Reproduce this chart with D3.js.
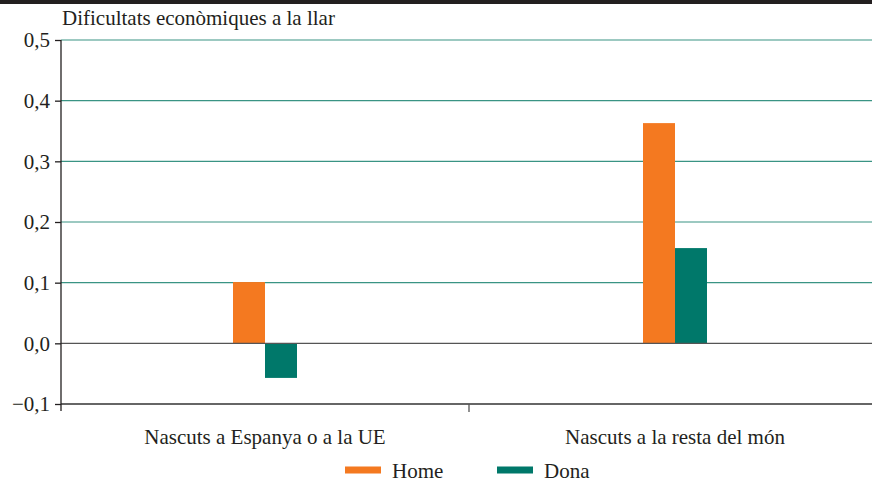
<!DOCTYPE html>
<html>
<head>
<meta charset="utf-8">
<script src="https://cdn.jsdelivr.net/npm/d3@7"></script>
</head>
<body style="margin:0">
<svg class="grafico"></svg>
<script>
// Datos del grafico
var categorias = ["Nascuts a Espanya o a la UE", "Nascuts a la resta del món"];
var series = ["Home", "Dona"];
var valoresHome = [0.101, 0.363];
var valoresDona = [-0.057, 0.157];
var ticksY = [-0.1, 0, 0.1, 0.2, 0.3, 0.4, 0.5];
var colores = ["#f47920", "#00786a"];

var fuente = "Liberation Serif";
var tam = 21;
var w = 872, h = 481;
var svg = d3.select(".grafico").attr("width", w).attr("height", h)
  .attr("font-family", fuente);

var izq = 60, der = 880, arriba = 40, abajo = 404;

var x = d3.scaleBand().domain(categorias).range([izq, der]);
var xs = d3.scaleBand().domain(series).range([x.bandwidth() / 2 - 32, x.bandwidth() / 2 + 32]);
var y = d3.scaleLinear().domain([-0.1, 0.5]).range([abajo, arriba]);

// barra negra superior
svg.append("rect").attr("x", 0).attr("y", 0).attr("width", w).attr("height", 4).attr("fill", "#231f20");

// titulo
svg.append("text").attr("x", 62).attr("y", 25).attr("font-size", tam)
  .attr("font-family", fuente).attr("fill", "#231f20")
  .text("Dificultats econòmiques a la llar");

// lineas de cuadricula
svg.append("g").selectAll("line")
  .data(ticksY.filter(function(d) { return d > 0; }))
  .enter().append("line")
  .attr("x1", 61).attr("x2", w)
  .attr("y1", function(d) { return y(d); })
  .attr("y2", function(d) { return y(d); })
  .attr("stroke", "#3a9484").attr("stroke-width", 1.2);

// barras
var datos = [];
categorias.forEach(function(c, i) {
  datos.push({ cat: c, serie: "Home", v: valoresHome[i] });
  datos.push({ cat: c, serie: "Dona", v: valoresDona[i] });
});
svg.append("g").selectAll("rect")
  .data(datos)
  .enter().append("rect")
  .attr("x", function(d) { return x(d.cat) + xs(d.serie); })
  .attr("width", xs.bandwidth())
  .attr("y", function(d) { return y(Math.max(0, d.v)); })
  .attr("height", function(d) { return Math.abs(y(d.v) - y(0)); })
  .attr("fill", function(d) { return colores[series.indexOf(d.serie)]; });

// linea del cero
svg.append("line").attr("x1", 61).attr("x2", w).attr("y1", y(0)).attr("y2", y(0))
  .attr("stroke", "#555").attr("stroke-width", 1.3);

// eje inferior
svg.append("line").attr("x1", 61).attr("x2", w).attr("y1", y(-0.1)).attr("y2", y(-0.1))
  .attr("stroke", "#333").attr("stroke-width", 1.3);
svg.append("line").attr("x1", x(categorias[1]) - 1).attr("x2", x(categorias[1]) - 1)
  .attr("y1", abajo).attr("y2", abajo + 8).attr("stroke", "#555").attr("stroke-width", 1.3);

// eje Y
var ejeY = d3.axisLeft(y).tickValues(ticksY).tickSize(6).tickPadding(5)
  .tickFormat(function(d) { return d3.format(".1f")(d).replace(".", ",").replace("-", "–"); });
var gy = svg.append("g").attr("transform", "translate(61,0)").call(ejeY)
  .attr("font-family", fuente).attr("font-size", tam);
gy.select(".domain").attr("d", "M0," + arriba + "V" + (abajo + 7)).attr("stroke", "#231f20").attr("stroke-width", 1.3);
gy.selectAll(".tick line").attr("stroke", "#231f20").attr("stroke-width", 1.3);
gy.selectAll(".tick text").attr("fill", "#231f20").attr("font-family", fuente);

// etiquetas de categorias
svg.append("g").selectAll("text")
  .data(categorias)
  .enter().append("text")
  .attr("x", function(d) { return x(d) + x.bandwidth() / 2; })
  .attr("y", 444)
  .attr("text-anchor", "middle").attr("font-size", tam)
  .attr("font-family", fuente).attr("fill", "#231f20")
  .text(function(d) { return d; });

// leyenda
var leyX = [345, 497];
var ley = svg.append("g").selectAll("g").data(series).enter().append("g")
  .attr("transform", function(d, i) { return "translate(" + leyX[i] + ",470)"; });
ley.append("rect").attr("x", 0).attr("y", -3.5).attr("width", 36).attr("height", 7)
  .attr("fill", function(d, i) { return colores[i]; });
ley.append("text").attr("x", 47).attr("y", 7.5).attr("font-size", tam)
  .attr("font-family", fuente).attr("fill", "#231f20")
  .text(function(d) { return d; });
</script>
</body>
</html>
